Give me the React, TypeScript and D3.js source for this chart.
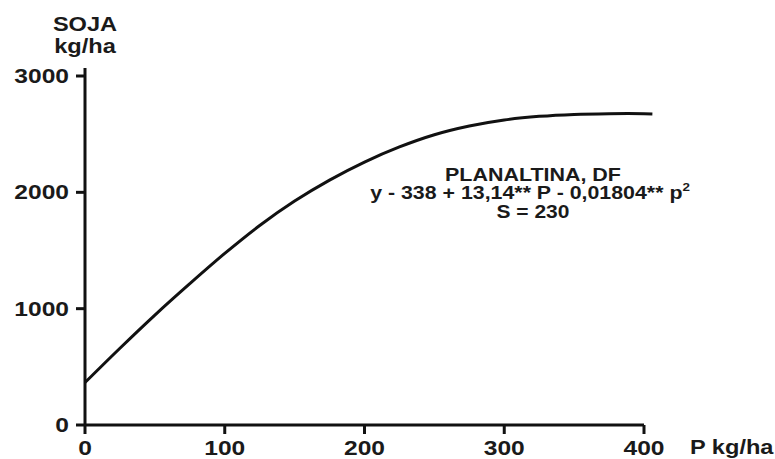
import React, { useEffect, useRef } from "react";
import * as d3 from "d3";

// values (P kg/ha -> soybean yield kg/ha)
const pDoses = [0, 25, 50, 75, 100, 125, 150, 175, 200, 225, 250, 275, 300, 325, 350, 375, 400, 406];
const yields = [365, 660, 945, 1215, 1475, 1715, 1925, 2105, 2260, 2390, 2495, 2570, 2622, 2653, 2670, 2676, 2676, 2674];

const xTicks = [0, 100, 200, 300, 400];
const yTicks = [0, 1000, 2000, 3000];

const annotation = ["PLANALTINA, DF", "y - 338 + 13,14** P - 0,01804** p", "S = 230"];

const W = 775;
const H = 459;
const FONT = "'Liberation Sans', Arial, sans-serif";

const App = () => {
  const svgRef = useRef<SVGSVGElement | null>(null);

  useEffect(() => {
    const svg = d3.select(svgRef.current);
    svg.selectAll("*").remove();

    const x = d3.scaleLinear().domain([0, 400]).range([85, 644]);
    const y = d3.scaleLinear().domain([0, 3000]).range([425, 76]);

    // bold text, stretched a bit sideways like the original
    const stretchText = (
      g: any,
      tx: number,
      ty: number,
      txt: string,
      size: number,
      sx: number,
      anchor: string
    ) =>
      g
        .append("text")
        .attr("transform", `translate(${tx},${ty}) scale(${sx},1)`)
        .attr("text-anchor", anchor)
        .attr("font-family", FONT)
        .attr("font-weight", "bold")
        .attr("font-size", size)
        .attr("fill", "#1a1a1a")
        .text(txt);

    // axis lines
    svg
      .append("path")
      .attr("d", `M${x(0)},${y(0)} V68`)
      .attr("stroke", "#111")
      .attr("stroke-width", 3)
      .attr("fill", "none");
    svg
      .append("path")
      .attr("d", `M${x(0)},${y(0)} H${x(400)}`)
      .attr("stroke", "#111")
      .attr("stroke-width", 3)
      .attr("fill", "none");

    // ticks + labels
    xTicks.forEach((t) => {
      svg
        .append("line")
        .attr("x1", x(t))
        .attr("x2", x(t))
        .attr("y1", y(0))
        .attr("y2", y(0) + 9)
        .attr("stroke", "#111")
        .attr("stroke-width", 3);
      stretchText(svg, x(t), 455, String(t), 20, 1.23, "middle");
    });
    yTicks.forEach((t) => {
      svg
        .append("line")
        .attr("x1", x(0) - 9)
        .attr("x2", x(0))
        .attr("y1", y(t))
        .attr("y2", y(t))
        .attr("stroke", "#111")
        .attr("stroke-width", 3);
      stretchText(svg, 69, y(t) + 7, String(t), 20, 1.23, "end");
    });

    // axis titles
    stretchText(svg, 85, 31, "SOJA", 20, 1.18, "middle");
    stretchText(svg, 85, 53, "kg/ha", 20, 1.18, "middle");
    stretchText(svg, 690, 454, "P kg/ha", 20, 1.18, "start");

    // curve
    const line = d3
      .line<number>()
      .x((d, i) => x(pDoses[i]))
      .y((d) => y(d))
      .curve(d3.curveCatmullRom);
    svg
      .append("path")
      .attr("d", line(yields))
      .attr("fill", "none")
      .attr("stroke", "#111")
      .attr("stroke-width", 3);

    // annotation
    const cx = 533;
    stretchText(svg, cx, 181, annotation[0], 18.5, 1.16, "middle");
    const eq = stretchText(svg, cx - 3, 199, annotation[1], 17.5, 1.22, "middle");
    eq.append("tspan").attr("font-size", 11).attr("dy", -8).text("2");
    stretchText(svg, cx, 218, annotation[2], 17.5, 1.2, "middle");
  }, []);

  return (
    <svg
      ref={svgRef}
      width={W}
      height={H}
      viewBox={`0 0 ${W} ${H}`}
      style={{ position: "absolute", left: 0, top: 0, background: "#fff" }}
    />
  );
};

export default App;
